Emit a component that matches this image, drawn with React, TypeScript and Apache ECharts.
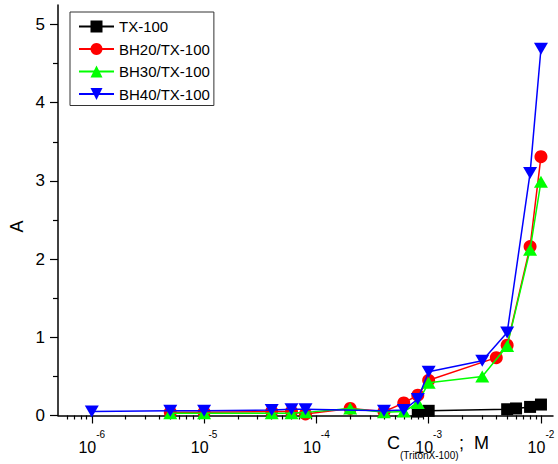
import React, { useEffect, useRef } from "react";
import * as echarts from "echarts";

const seriesNames = ["TX-100", "BH20/TX-100", "BH30/TX-100", "BH40/TX-100"];
const seriesColors = ["#000000", "#ff0000", "#00ff00", "#0000ff"];

const txX = [8e-4, 1e-3, 5e-3, 6e-3, 8e-3, 1e-2];
const txY = [0.05, 0.06, 0.08, 0.09, 0.11, 0.14];

const bh20X = [5e-6, 1e-5, 4e-5, 6e-5, 8e-5, 2e-4, 4e-4, 6e-4, 8e-4, 1e-3, 4e-3, 5e-3, 8e-3, 1e-2];
const bh20Y = [0.04, 0.04, 0.05, 0.05, 0.02, 0.09, 0.05, 0.16, 0.26, 0.45, 0.74, 0.9, 2.16, 3.31];

const bh30X = [5e-6, 1e-5, 4e-5, 6e-5, 8e-5, 2e-4, 4e-4, 6e-4, 8e-4, 1e-3, 3e-3, 5e-3, 8e-3, 1e-2];
const bh30Y = [0.03, 0.03, 0.03, 0.03, 0.04, 0.09, 0.04, 0.05, 0.16, 0.42, 0.5, 0.89, 2.12, 2.99];

const bh40X = [1e-6, 5e-6, 1e-5, 4e-5, 6e-5, 8e-5, 4e-4, 6e-4, 8e-4, 1e-3, 3e-3, 5e-3, 8e-3, 1e-2];
const bh40Y = [0.05, 0.06, 0.06, 0.07, 0.08, 0.08, 0.06, 0.07, 0.21, 0.56, 0.7, 1.06, 3.1, 4.69];

const majorXTicks = [1e-6, 1e-5, 1e-4, 1e-3, 1e-2];
const minorXTicks: number[] = [6e-7, 7e-7, 8e-7, 9e-7];
[1e-6, 1e-5, 1e-4, 1e-3].forEach((d) => {
  for (let m = 2; m <= 9; m++) minorXTicks.push(m * d);
});
const yTicks = [0, 1, 2, 3, 4, 5];
const yMinorTicks = [0.5, 1.5, 2.5, 3.5, 4.5];

const X_MIN = 5e-7;
const X_MAX = 1.28e-2;
const Y_MIN = 0;
const Y_MAX = 5.25;

const FONT = "'Liberation Sans', Arial, sans-serif";

const pairs = (xs: number[], ys: number[]) => xs.map((x, i) => [x, ys[i]]);

const App: React.FC = () => {
  const ref = useRef<HTMLDivElement>(null);
  useEffect(() => {
    if (!ref.current) return;
    const chart = echarts.init(ref.current, undefined, { renderer: "svg" });
    const downTri = "path://M0,0L10,0L5,9Z";
    const symbols = ["rect", "circle", "triangle", downTri];
    const sizes: any[] = [12, 13, [14, 12], [14, 12]];
    const datas = [pairs(txX, txY), pairs(bh20X, bh20Y), pairs(bh30X, bh30Y), pairs(bh40X, bh40Y)];

    const baseX = {
      type: "log",
      logBase: 10,
      min: X_MIN,
      max: X_MAX,
      position: "bottom",
      splitLine: { show: false },
      minorTick: { show: false },
      minorSplitLine: { show: false },
    };
    const baseY = {
      type: "value",
      min: Y_MIN,
      max: Y_MAX,
      position: "left",
      splitLine: { show: false },
    };

    chart.setOption({
      animation: false,
      backgroundColor: "#ffffff",
      textStyle: { fontFamily: FONT },
      grid: { left: 58, right: 5, top: 5, bottom: 48.5, containLabel: false },
      xAxis: [
        {
          ...baseX,
          axisLine: { show: true, lineStyle: { color: "#000", width: 1.5 } },
          axisTick: {
            show: true,
            inside: false,
            length: 8,
            lineStyle: { color: "#000", width: 1.2 },
            customValues: majorXTicks,
          },
          axisLabel: {
            show: true,
            margin: 14,
            customValues: majorXTicks,
            formatter: (v: number) => `{b|10}{s|${Math.round(Math.log10(v))}}`,
            rich: {
              b: { fontSize: 16, fontFamily: FONT, color: "#000", lineHeight: 26, verticalAlign: "bottom" },
              s: { fontSize: 10, fontFamily: FONT, color: "#000", lineHeight: 14, verticalAlign: "top" },
            },
          },
        },
        {
          ...baseX,
          axisLine: { show: false },
          axisTick: {
            show: true,
            inside: false,
            length: 4,
            lineStyle: { color: "#000", width: 1.2 },
            customValues: minorXTicks,
          },
          axisLabel: { show: false },
        },
      ],
      yAxis: [
        {
          ...baseY,
          axisLine: { show: true, lineStyle: { color: "#000", width: 1.5 } },
          axisTick: {
            show: true,
            inside: false,
            length: 8,
            lineStyle: { color: "#000", width: 1.2 },
            customValues: yTicks,
          },
          axisLabel: {
            show: true,
            margin: 13,
            customValues: yTicks,
            fontSize: 17,
            color: "#000",
            fontFamily: FONT,
          },
        },
        {
          ...baseY,
          axisLine: { show: false },
          axisTick: {
            show: true,
            inside: false,
            length: 5,
            lineStyle: { color: "#000", width: 1.2 },
            customValues: yMinorTicks,
          },
          axisLabel: { show: false },
        },
      ],
      legend: {
        orient: "vertical",
        left: 70,
        top: 12,
        padding: [6, 4, 3, 8],
        itemGap: 5.5,
        itemWidth: 35,
        itemHeight: 15,
        borderColor: "#333",
        borderWidth: 1,
        backgroundColor: "#fff",
        textStyle: { fontSize: 15, color: "#000", fontFamily: FONT, lineHeight: 17 },
        data: seriesNames,
      },
      series: seriesNames.map((name, i) => ({
        name,
        type: "line",
        xAxisIndex: 0,
        yAxisIndex: 0,
        data: datas[i],
        symbol: symbols[i],
        symbolSize: sizes[i],
        showAllSymbol: true,
        lineStyle: { color: seriesColors[i], width: 1.5 },
        itemStyle: { color: seriesColors[i] },
        z: 2 + i,
        clip: false,
      })),
      graphic: [
        {
          type: "text",
          x: 16.5,
          y: 226.5,
          rotation: Math.PI / 2,
          style: {
            text: "A",
            fontSize: 18,
            fontFamily: FONT,
            fill: "#000",
            align: "center",
            verticalAlign: "middle",
          },
        },
        {
          type: "text",
          x: 387,
          y: 443,
          style: { text: "C", fontSize: 18, fontFamily: FONT, fill: "#000", align: "left", verticalAlign: "middle" },
        },
        {
          type: "text",
          x: 400,
          y: 455,
          style: {
            text: "(TritonX-100)",
            fontSize: 10,
            fontFamily: FONT,
            fill: "#000",
            align: "left",
            verticalAlign: "middle",
          },
        },
        {
          type: "text",
          x: 459,
          y: 443,
          style: { text: ";  M", fontSize: 18, fontFamily: FONT, fill: "#000", align: "left", verticalAlign: "middle" },
        },
      ],
    });
    return () => chart.dispose();
  }, []);
  return (
    <div
      ref={ref}
      style={{ position: "fixed", left: 0, top: 0, width: 558, height: 464, background: "#fff" }}
    />
  );
};

export default App;
